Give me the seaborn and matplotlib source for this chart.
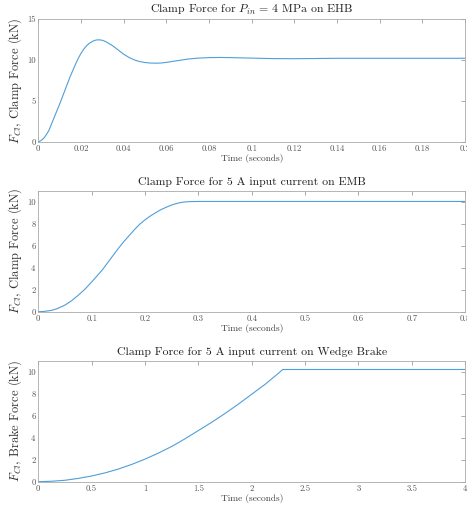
import numpy as np
import pandas as pd
import seaborn as sns
import matplotlib as mpl
import matplotlib.pyplot as plt
from matplotlib.ticker import FuncFormatter, MultipleLocator

# EHB clamp force, P_in = 4 MPa
t_ehb = [0, 0.001, 0.0025, 0.00375, 0.005, 0.00625, 0.0075, 0.00875, 0.01,
         0.01125, 0.0125, 0.01375, 0.015, 0.01625, 0.0175, 0.01875, 0.02,
         0.02125, 0.0225, 0.02375, 0.025, 0.02625, 0.0275, 0.02875, 0.03,
         0.03125, 0.0325, 0.035, 0.0375, 0.04, 0.0425, 0.045, 0.0475, 0.05,
         0.0525, 0.055, 0.0575, 0.06, 0.0625, 0.065, 0.0675, 0.07, 0.075,
         0.08, 0.085, 0.09, 0.095, 0.1, 0.11, 0.12, 0.13, 0.14, 0.16, 0.18,
         0.2]
f_ehb = [0, 0.1, 0.4, 0.85, 1.4, 2.2, 3.0, 3.8, 4.6,
         5.45, 6.3, 7.15, 8.0, 8.75, 9.5, 10.2, 10.8,
         11.3, 11.7, 12.0, 12.2, 12.37, 12.45, 12.45, 12.4,
         12.28, 12.1, 11.7, 11.2, 10.7, 10.3, 10.0, 9.8, 9.68,
         9.62, 9.6, 9.62, 9.7, 9.8, 9.9, 10.0, 10.1, 10.22,
         10.28, 10.3, 10.28, 10.25, 10.22, 10.16, 10.15, 10.17, 10.2, 10.2,
         10.2, 10.2]

# EMB clamp force, 5 A input current
t_emb = [0, 0.01, 0.025, 0.035, 0.05, 0.0625, 0.075, 0.0875, 0.1, 0.11,
         0.12, 0.13, 0.14, 0.15, 0.16, 0.17, 0.18, 0.19, 0.2, 0.21, 0.22,
         0.23, 0.24, 0.25, 0.26, 0.27, 0.28, 0.3, 0.8]
f_emb = [0, 0.02, 0.12, 0.27, 0.6, 1.0, 1.5, 2.05, 2.7, 3.25,
         3.8, 4.45, 5.1, 5.75, 6.35, 6.9, 7.45, 7.95, 8.35, 8.7, 9.0,
         9.28, 9.5, 9.7, 9.85, 9.95, 10.0, 10.02, 10.02]

# Wedge brake force, 5 A input current
t_wb = [0, 0.125, 0.25, 0.375, 0.5, 0.625, 0.75, 0.875, 1.0, 1.125, 1.25,
        1.375, 1.5, 1.625, 1.75, 1.875, 2.0, 2.125, 2.25, 2.29, 4.0]
f_wb = [0, 0.04, 0.13, 0.3, 0.52, 0.8, 1.15, 1.57, 2.05, 2.6, 3.2,
        3.9, 4.65, 5.4, 6.2, 7.05, 7.95, 8.85, 9.85, 10.2, 10.2]

panels = [
    (t_ehb, f_ehb, 'Clamp Force for $P_{in}$ = 4 MPa on EHB',
     '$F_{Cl}$, Clamp Force (kN)', 0.2, 0.02, 15, 5),
    (t_emb, f_emb, 'Clamp Force for 5 A input current on EMB',
     '$F_{Cl}$, Clamp Force (kN)', 0.8, 0.1, 11, 2),
    (t_wb, f_wb, 'Clamp Force for 5 A input current on Wedge Brake',
     '$F_{Cl}$, Brake Force (kN)', 4, 0.5, 11, 2),
]

sns.set_style('white')
mpl.rcParams['font.family'] = 'cmr10'
mpl.rcParams['mathtext.fontset'] = 'cm'
mpl.rcParams['axes.formatter.use_mathtext'] = True

fig = plt.figure(figsize=(4.67, 5.07), dpi=100)
boxes = [[0.082, 0.7205, 0.914, 0.242],
         [0.082, 0.3852, 0.914, 0.2387],
         [0.082, 0.0499, 0.914, 0.2387]]

fmt = FuncFormatter(lambda v, p: f'{v:g}')

for box, (t, f, title, ylab, xmax, xstep, ymax, ystep) in zip(boxes, panels):
    ax = fig.add_axes(box)
    df = pd.DataFrame({'t': t, 'F': f})
    sns.lineplot(data=df, x='t', y='F', ax=ax, color='#4f9fd8', lw=0.8,
                 estimator=None, sort=False)
    ax.set_xlim(0, xmax)
    ax.set_ylim(0, ymax)
    ax.xaxis.set_major_locator(MultipleLocator(xstep))
    ax.yaxis.set_major_locator(MultipleLocator(ystep))
    ax.xaxis.set_major_formatter(fmt)
    ax.yaxis.set_major_formatter(fmt)
    ax.tick_params(direction='in', top=True, right=True, length=3,
                   width=0.5, color='#888888', labelcolor='#555555',
                   labelsize=6.3, pad=2)
    for s in ax.spines.values():
        s.set_color('#aaaaaa')
        s.set_linewidth(0.6)
    ax.set_title(title, fontsize=8.5, color='#222222', pad=4)
    ax.set_xlabel('Time (seconds)', fontsize=6.8, color='#444444', labelpad=1)
    ax.set_ylabel(ylab, fontsize=9, color='#333333', labelpad=2)

fig.savefig('out.png', dpi=100)
